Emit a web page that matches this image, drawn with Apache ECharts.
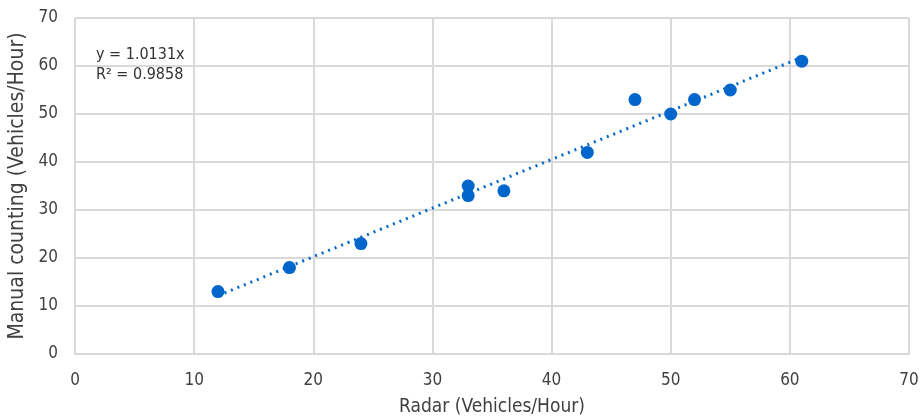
<!DOCTYPE html>
<html>
<head>
<meta charset="utf-8">
<script src="https://cdn.jsdelivr.net/npm/echarts@6/dist/echarts.min.js"></script>
<style>
  html, body { margin: 0; padding: 0; background: #fff; }
  #chart { width: 921px; height: 419px; }
</style>
</head>
<body>
<div id="chart"></div>
<script>
// radar vs manual counts
var radar  = [12, 18, 24, 33, 33, 36, 43, 47, 50, 52, 55, 61];
var manual = [13, 18, 23, 35, 33, 34, 42, 53, 50, 53, 55, 61];
var slope = 1.0131;
var eqLines = ['y = 1.0131x', 'R² = 0.9858'];
var axisTicks = [0, 10, 20, 30, 40, 50, 60, 70];

var font = '"Liberation Sans Narrow", "DejaVu Sans Condensed", "Liberation Sans", sans-serif';

var points = radar.map(function (x, i) { return [x, manual[i]]; });
var xMin = Math.min.apply(null, radar), xMax = Math.max.apply(null, radar);
var trend = [[xMin, slope * xMin], [xMax, slope * xMax]];

var myChart = echarts.init(document.getElementById('chart'));
var option = {
    animation: false,
    grid: { left: 75, right: 12, top: 18, bottom: 65, outerBoundsMode: 'none' },
    xAxis: {
        type: 'value',
        min: axisTicks[0], max: axisTicks[axisTicks.length - 1], interval: 10,
        name: 'Radar (Vehicles/Hour)',
        nameLocation: 'middle', nameGap: 44,
        nameTextStyle: { fontFamily: font, fontSize: 19, color: '#404040' },
        axisLine: { show: true, lineStyle: { color: '#d9d9d9', width: 2 } },
        axisTick: { show: false },
        axisLabel: { fontFamily: font, fontSize: 17, color: '#404040', margin: 18 },
        splitLine: { lineStyle: { color: '#d9d9d9', width: 2 } }
    },
    yAxis: {
        type: 'value',
        min: axisTicks[0], max: axisTicks[axisTicks.length - 1], interval: 10,
        name: 'Manual counting (Vehicles/Hour)',
        nameLocation: 'middle', nameGap: 43,
        nameTextStyle: { fontFamily: font, fontSize: 21, color: '#404040' },
        axisLine: { show: false },
        axisTick: { show: false },
        axisLabel: { fontFamily: font, fontSize: 17, color: '#404040', margin: 17 },
        splitLine: { lineStyle: { color: '#d9d9d9', width: 2 } }
    },
    graphic: [{
        type: 'text', left: 96, top: 45,
        style: { text: eqLines.join('\n'), font: '16px ' + font, fill: '#333', lineHeight: 20 }
    }],
    series: [
        {
            type: 'line',
            data: trend,
            symbol: 'none',
            lineStyle: { color: '#0066cc', width: 3, type: [2, 5] },
            z: 2
        },
        {
            type: 'scatter',
            data: points,
            symbolSize: 13,
            itemStyle: { color: '#0066cc', opacity: 1 },
            z: 3
        }
    ]
};
myChart.setOption(option);
</script>
</body>
</html>
